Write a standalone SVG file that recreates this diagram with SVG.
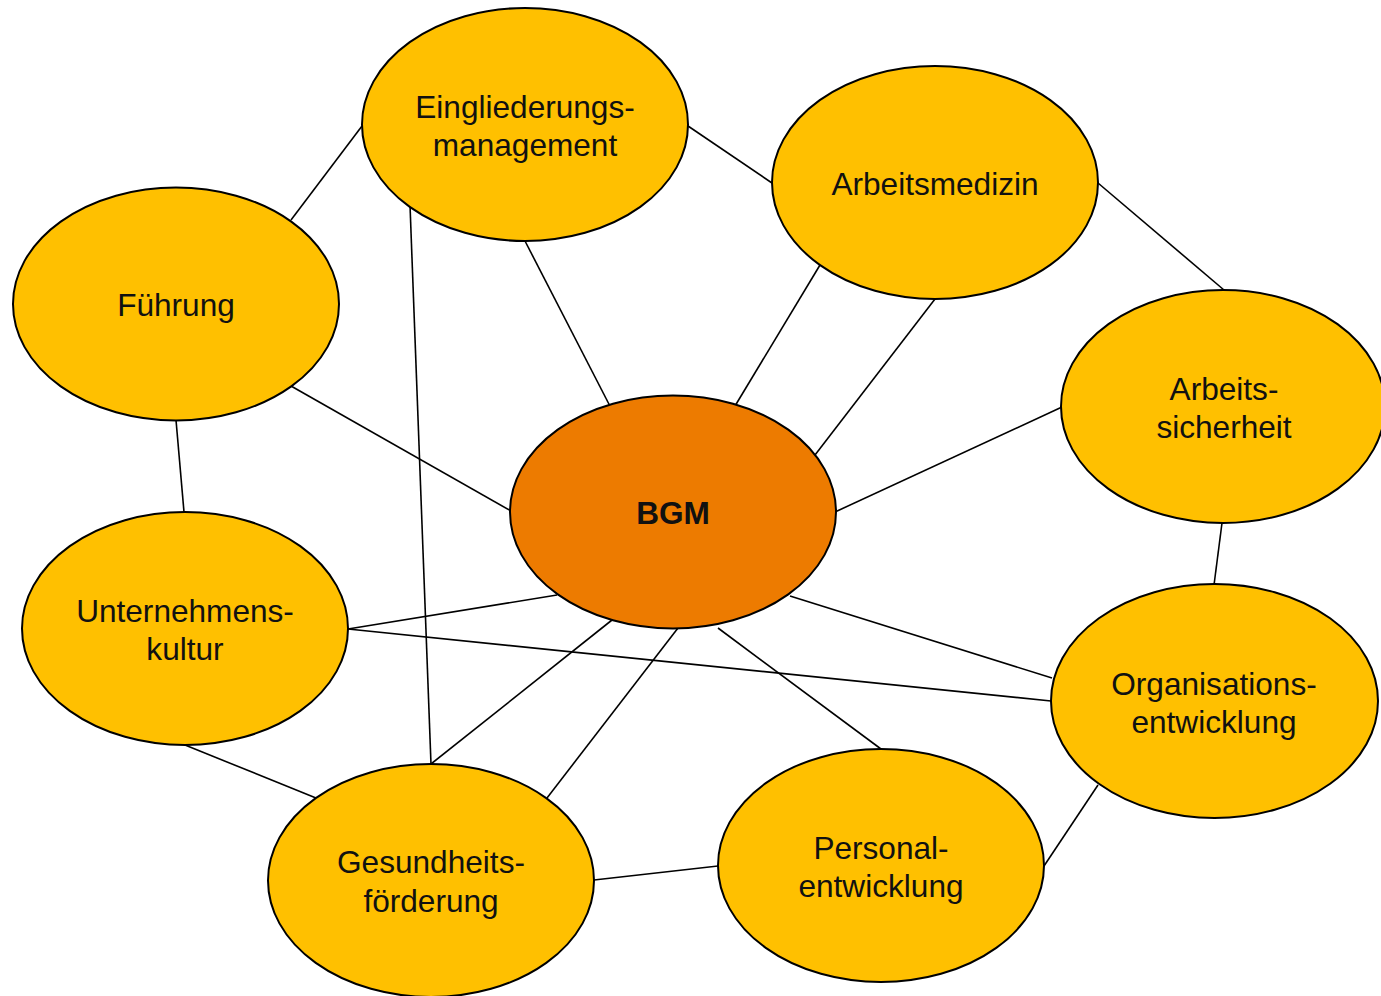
<svg xmlns="http://www.w3.org/2000/svg" width="1381" height="996" viewBox="0 0 1381 996">
  <style>
    .node { fill: #FFC000; stroke: #000; stroke-width: 2; }
    .core { fill: #ED7B00; stroke: #000; stroke-width: 2; }
    .lbl { font-family: "Liberation Sans", Arial, sans-serif; font-size: 31.6px; fill: #111; text-anchor: middle; }
    .bold { font-weight: bold; }
    .links line { stroke: #000; stroke-width: 1.6; }
  </style>
  <rect width="1381" height="996" fill="#fff"/>

  <!-- connectors -->
  <g id="connectors" class="links">
    <line x1="291" y1="220" x2="362" y2="126"/>
    <line x1="688" y1="126" x2="772" y2="183"/>
    <line x1="1098" y1="183" x2="1224" y2="290"/>
    <line x1="525" y1="241" x2="612" y2="410"/>
    <line x1="820" y1="265" x2="735" y2="406"/>
    <line x1="935" y1="299" x2="815" y2="455"/>
    <line x1="1062" y1="407" x2="835" y2="512"/>
    <line x1="1222" y1="523" x2="1214" y2="585"/>
    <line x1="291" y1="386" x2="511" y2="511"/>
    <line x1="176" y1="420" x2="184" y2="512"/>
    <line x1="410" y1="205" x2="431" y2="764"/>
    <line x1="348" y1="629" x2="557" y2="595"/>
    <line x1="348" y1="629" x2="1051" y2="701"/>
    <line x1="790" y1="596" x2="1052" y2="678"/>
    <line x1="612" y1="620" x2="431" y2="764"/>
    <line x1="678" y1="628" x2="547" y2="798"/>
    <line x1="718" y1="628" x2="881" y2="749"/>
    <line x1="185" y1="745" x2="316" y2="798"/>
    <line x1="594" y1="880" x2="718" y2="866"/>
    <line x1="1044" y1="866" x2="1098" y2="785"/>
  </g>

  <!-- nodes -->
  <g id="eingliederung">
    <ellipse class="node" cx="525" cy="124.5" rx="163" ry="116.5"/>
    <text class="lbl" x="525" y="118">Eingliederungs-</text>
    <text class="lbl" x="525" y="156">management</text>
  </g>
  <g id="arbeitsmedizin">
    <ellipse class="node" cx="935" cy="182.5" rx="163" ry="116.5"/>
    <text class="lbl" x="935" y="195">Arbeitsmedizin</text>
  </g>
  <g id="fuehrung">
    <ellipse class="node" cx="176" cy="304" rx="163" ry="116.5"/>
    <text class="lbl" x="176" y="316">Führung</text>
  </g>
  <g id="arbeitssicherheit">
    <ellipse class="node" cx="1223" cy="406.5" rx="162" ry="116.5"/>
    <text class="lbl" x="1224" y="400">Arbeits-</text>
    <text class="lbl" x="1224" y="438">sicherheit</text>
  </g>
  <g id="bgm">
    <ellipse class="core" cx="673" cy="512" rx="163" ry="116.5"/>
    <text class="lbl bold" x="673" y="524">BGM</text>
  </g>
  <g id="unternehmenskultur">
    <ellipse class="node" cx="185" cy="628.5" rx="163" ry="116.5"/>
    <text class="lbl" x="185" y="622">Unternehmens-</text>
    <text class="lbl" x="185" y="660">kultur</text>
  </g>
  <g id="organisationsentwicklung">
    <ellipse class="node" cx="1214.5" cy="701" rx="163.5" ry="117"/>
    <text class="lbl" x="1214" y="695">Organisations-</text>
    <text class="lbl" x="1214" y="733">entwicklung</text>
  </g>
  <g id="gesundheitsfoerderung">
    <ellipse class="node" cx="431" cy="880.5" rx="163" ry="116.5"/>
    <text class="lbl" x="431" y="873">Gesundheits-</text>
    <text class="lbl" x="431" y="912">förderung</text>
  </g>
  <g id="personalentwicklung">
    <ellipse class="node" cx="881" cy="865.5" rx="163" ry="116.5"/>
    <text class="lbl" x="881" y="859">Personal-</text>
    <text class="lbl" x="881" y="897">entwicklung</text>
  </g>
</svg>
